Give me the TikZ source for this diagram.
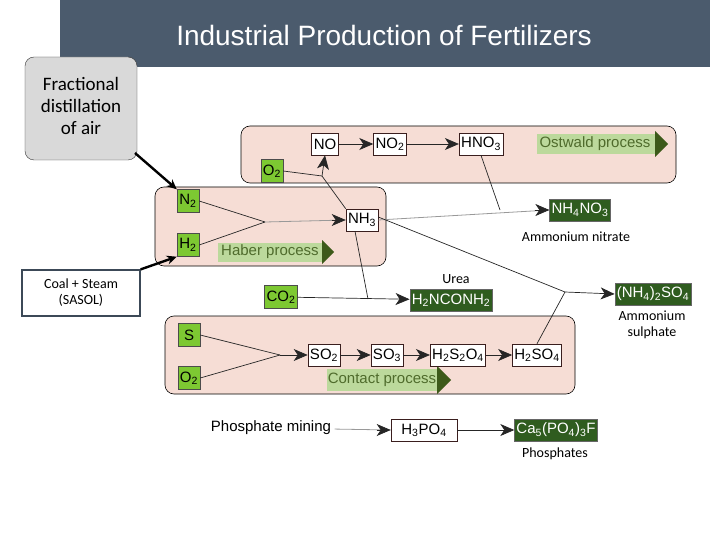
\documentclass[tikz,border=0pt]{standalone}
\usepackage{fontspec}
\setmainfont{Liberation Sans}
\newfontfamily\carl{Carlito}
\usetikzlibrary{arrows.meta,positioning,calc}
\definecolor{titlebg}{HTML}{4B5B6D}
\definecolor{panel}{HTML}{F6DDD5}
\definecolor{lg}{HTML}{7DC832}
\definecolor{dg}{HTML}{2F5C1F}
\definecolor{band}{HTML}{BCD99C}
\definecolor{bandtxt}{HTML}{4F6B2C}
\definecolor{tri}{HTML}{3D5A1A}
\definecolor{edge}{HTML}{3A1E1E}
\newcommand{\sbs}[1]{\textsubscript{#1}}
\begin{document}
\begin{tikzpicture}[x=1pt,y=-1pt,font=\fontsize{15}{17}\selectfont,
  panelbox/.style={draw=black,fill=panel,rounded corners=9pt,line width=0.6pt},
  chem/.style={draw=edge,fill=white,minimum height=22pt,inner sep=2pt,line width=0.6pt},
  src/.style={draw=black!70,fill=lg,minimum height=23pt,minimum width=22pt,inner sep=2pt},
  prod/.style={draw=black!60,fill=dg,text=white,minimum height=22pt,inner sep=2pt},
  lab/.style={font=\carl\fontsize{14}{16}\selectfont},
  ln/.style={draw=black!85,line width=0.7pt},
  gln/.style={draw=black!40,line width=0.8pt},
  arr/.style={-{Stealth[length=14pt,width=12pt,inset=4pt]}},
  fat/.style={line width=2.4pt,-{Stealth[length=10pt,width=9pt]}}]
\useasboundingbox (0,0) rectangle (720,540);
\fill[titlebg] (60,0) rectangle (710,67);
\node[text=white,font=\fontsize{28}{31}\selectfont] (title) at (384,35) {Industrial Production of Fertilizers};
% panels
\draw[panelbox] (241,126) rectangle (676,183);
\draw[panelbox] (155,187) rectangle (386,266);
\draw[panelbox] (165,316) rectangle (575,394);
% side boxes
\node[draw=black!80,fill=black!15,rounded corners=9pt,minimum width=112pt,minimum height=103pt,inner sep=0pt] (air) at (81,108.5) {};
\node[align=center,font=\carl\fontsize{19}{22}\selectfont,anchor=north] (airt) at (81,74) {Fractional\\distillation\\of air};
\node[draw=titlebg!80!black,line width=1.2pt,fill=white,minimum width=118pt,minimum height=46pt,align=center,lab] (coal) at (81,293) {Coal + Steam\\(SASOL)};
% label bands
\fill[band] (537,134) rectangle (655,154); \fill[tri] (655,131) -- (668,144) -- (655,157) -- cycle;
\node[text=bandtxt] (ostw) at (595,144) {Ostwald process};
\fill[band] (218,243) rectangle (322,262); \fill[tri] (322,240) -- (334,252) -- (322,264) -- cycle;
\node[text=bandtxt] (haber) at (270,252) {Haber process};
\fill[band] (327,369) rectangle (437,391); \fill[tri] (437,366) -- (451,380) -- (437,394) -- cycle;
\node[text=bandtxt] (cont) at (382,380) {Contact process};
% nodes
\node[chem] (no) at (325,144) {NO};
\node[chem] (no2) at (390,144) {NO\sbs2};
\node[chem] (hno3) at (481,144) {HNO\sbs3};
\node[src] (o2a) at (272,171) {O\sbs2};
\node[src] (n2) at (188,201) {N\sbs2};
\node[src] (h2) at (188,245) {H\sbs2};
\node[chem] (nh3) at (362,220) {NH\sbs3};
\node[prod] (nh4no3) at (580,210) {NH\sbs4NO\sbs3};
\node[lab] (anl) at (576,237) {Ammonium nitrate};
\node[src] (co2) at (281,297) {CO\sbs2};
\node[prod] (urea) at (451,300) {H\sbs2NCONH\sbs2};
\node[lab] (ul) at (456,279) {Urea};
\node[prod] (as) at (653,294) {(NH\sbs4)\sbs2SO\sbs4};
\node[lab,align=center] (asl) at (652,325) {Ammonium\\sulphate};
\node[src] (s) at (189,335) {S};
\node[src] (o2b) at (189,378) {O\sbs2};
\node[chem] (so2) at (324,355) {SO\sbs2};
\node[chem] (so3) at (387,355) {SO\sbs3};
\node[chem] (h2s2o4) at (458,355) {H\sbs2S\sbs2O\sbs4};
\node[chem] (h2so4) at (537,355) {H\sbs2SO\sbs4};
\node (pm) at (271,428) {Phosphate mining};
\node[chem,minimum width=66pt] (h3po4) at (424,430) {H\sbs3PO\sbs4};
\node[prod] (ca) at (556,430) {Ca\sbs5(PO\sbs4)\sbs3F};
\node[lab] (phl) at (555,454) {Phosphates};
% coordinates
\coordinate (mh) at (265,222);
\coordinate (mo) at (322,176);
\coordinate (mn) at (500,210);
\coordinate (mu) at (368,299);
\coordinate (ms) at (565,292);
\coordinate (mc) at (280,355);
\coordinate (a1) at (135,153);
% connectors
\draw[fat] (a1) -- (n2.north west);
\draw[fat] (coal.north east) -- (h2.south west);
\draw[ln] (n2.east) -- (mh); \draw[ln] (h2.east) -- (mh);
\draw[gln] (mh) -- (nh3.west); \draw[ln,arr] ($(nh3.west)+(-14,0)$) -- (nh3.west);
\draw[ln] (nh3.north west) -- (mo); \draw[ln] (o2a.east) -- (mo);
\draw[ln,arr] (mo) -- (no.south);
\draw[ln,arr] (no) -- (no2); \draw[ln,arr] (no2) -- (hno3);
\draw[gln] (nh3.east) -- (nh4no3.west); \draw[ln,arr] ($(nh4no3.west)+(-14,0)$) -- (nh4no3.west);
\draw[ln] (hno3.south) -- (mn);
\draw[ln] ([xshift=-7pt]nh3.south) -- (mu);
\draw[ln,arr] (co2) -- (urea);
\draw[ln] ([yshift=3pt]nh3.east) -- (ms); \draw[ln] (h2so4.north) -- (ms);
\draw[ln,arr] (ms) -- (as.west);
\draw[ln] (s.east) -- (mc); \draw[ln] (o2b.east) -- (mc);
\draw[ln,arr] (mc) -- (so2); \draw[ln,arr] (so2) -- (so3); \draw[ln,arr] (so3) -- (h2s2o4); \draw[ln,arr] (h2s2o4) -- (h2so4);
\draw[gln] (pm) -- (h3po4.west); \draw[ln,arr] ($(h3po4.west)+(-14,0)$) -- (h3po4.west);
\draw[ln,arr] (h3po4) -- (ca);
\end{tikzpicture}
\end{document}
